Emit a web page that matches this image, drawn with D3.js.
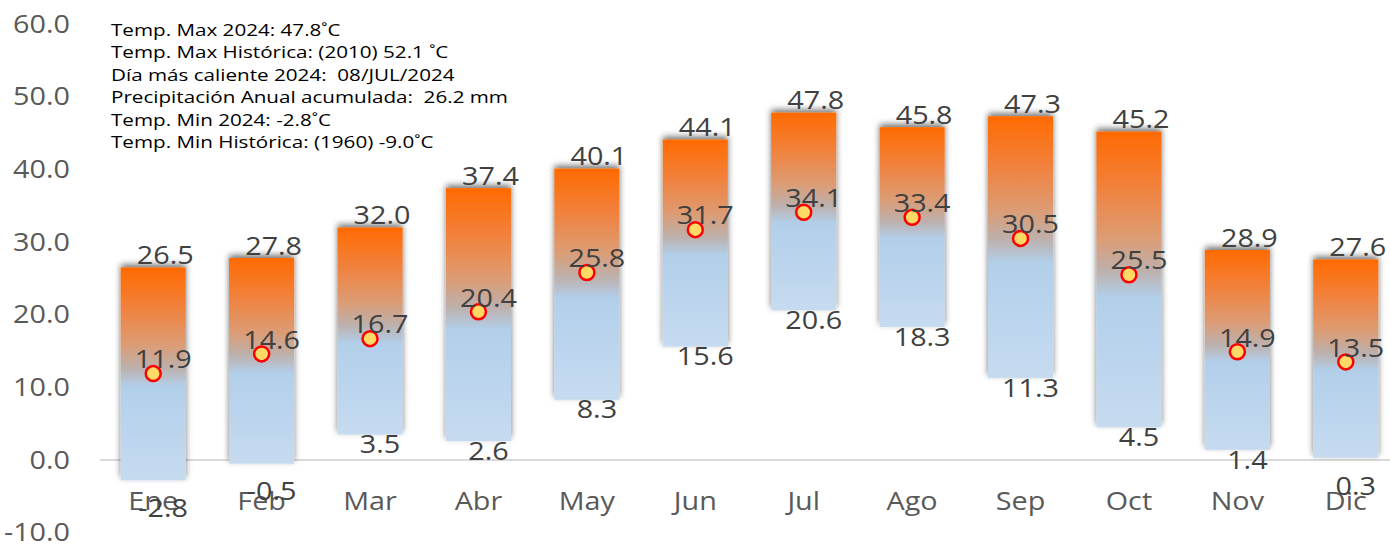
<!DOCTYPE html>
<html>
<head>
<meta charset="utf-8">
<script src="https://cdn.jsdelivr.net/npm/d3@7"></script>
<style>
  body { margin: 0; background: #fff; }
  svg { display: block; }
</style>
</head>
<body>
<script>
// datos mensuales 2024
var months = ["Ene", "Feb", "Mar", "Abr", "May", "Jun", "Jul", "Ago", "Sep", "Oct", "Nov", "Dic"];
var tMax = [26.5, 27.8, 32.0, 37.4, 40.1, 44.1, 47.8, 45.8, 47.3, 45.2, 28.9, 27.6];
var tMin = [-2.8, -0.5, 3.5, 2.6, 8.3, 15.6, 20.6, 18.3, 11.3, 4.5, 1.4, 0.3];
var tAvg = [11.9, 14.6, 16.7, 20.4, 25.8, 31.7, 34.1, 33.4, 30.5, 25.5, 14.9, 13.5];
var yTicks = [-10, 0, 10, 20, 30, 40, 50, 60];
var notes = [
	"Temp. Max 2024: 47.8˚C",
	"Temp. Max Histórica: (2010) 52.1 ˚C",
	"Día más caliente 2024:  08/JUL/2024",
	"Precipitación Anual acumulada:  26.2 mm",
	"Temp. Min 2024: -2.8˚C",
	"Temp. Min Histórica: (1960) -9.0˚C"
];

var width = 1390,
	height = 548;
var sx = 1.15; // the original chart is stretched sideways

var svg = d3.select("body").append("svg")
	.attr("width", width)
	.attr("height", height)
	.style("font-family", "'Open Sans', sans-serif");

var defs = svg.append("defs");
var grad = defs.append("linearGradient")
	.attr("id", "barGrad")
	.attr("x1", 0).attr("y1", 0).attr("x2", 0).attr("y2", 1);
[[0, "#ff6a00"], [0.18, "#f2803a"], [0.36, "#dc9c74"], [0.47, "#bdb0ac"], [0.56, "#b2cfea"], [1, "#c6dbf0"]]
	.forEach(function(s) {
		grad.append("stop").attr("offset", s[0]).attr("stop-color", s[1]);
	});

var shadow = defs.append("filter")
	.attr("id", "shadow")
	.attr("x", "-30%").attr("y", "-10%").attr("width", "160%").attr("height", "120%");
shadow.append("feDropShadow")
	.attr("dx", 0).attr("dy", -3)
	.attr("stdDeviation", 3)
	.attr("flood-color", "#000")
	.attr("flood-opacity", 0.55);

var x = d3.scaleBand()
	.domain(months)
	.range([99, 1400])
	.paddingInner(0.4)
	.paddingOuter(0.2);

var y = d3.scaleLinear()
	.domain([-10, 60])
	.range([532.7, 24]);

// stretched text helper
function label(g, tx, ty, str, size, color, anchor) {
	return g.append("text")
		.attr("transform", "translate(" + tx + "," + ty + ") scale(" + sx + ",1)")
		.attr("text-anchor", anchor || "middle")
		.attr("dy", "0.35em")
		.style("font-size", size + "px")
		.style("fill", color)
		.text(str);
}

// y axis labels
var yAxis = svg.append("g");
yTicks.forEach(function(t) {
	label(yAxis, 70, y(t), t.toFixed(1), 25, "#595959", "end");
});

// zero line
svg.append("line")
	.attr("x1", 100).attr("x2", width)
	.attr("y1", y(0)).attr("y2", y(0))
	.attr("stroke", "#d9d9d9")
	.attr("stroke-width", 2);

var cx = function(i) { return x(months[i]) + x.bandwidth() / 2; };

// floating bars min -> max
svg.append("g").selectAll("rect")
	.data(months)
	.enter()
	.append("rect")
	.attr("x", function(d) { return x(d); })
	.attr("width", x.bandwidth())
	.attr("y", function(d, i) { return y(tMax[i]); })
	.attr("height", function(d, i) { return y(tMin[i]) - y(tMax[i]); })
	.attr("fill", "url(#barGrad)")
	.attr("filter", "url(#shadow)");

// month labels
var xAxis = svg.append("g");
months.forEach(function(m, i) {
	label(xAxis, cx(i), 501, m, 25, "#595959");
});

// average markers
svg.append("g").selectAll("circle")
	.data(tAvg)
	.enter()
	.append("circle")
	.attr("cx", function(d, i) { return cx(i); })
	.attr("cy", function(d) { return y(d); })
	.attr("r", 7.5)
	.attr("fill", "#ffd966")
	.attr("stroke", "#ff0000")
	.attr("stroke-width", 2.5);

var labels = svg.append("g");
tMax.forEach(function(v, i) {
	label(labels, cx(i) + 12, y(v) - 12, v.toFixed(1), 25, "#404040");
});
tAvg.forEach(function(v, i) {
	label(labels, cx(i) + 10, y(v) - 14, v.toFixed(1), 25, "#404040");
});
tMin.forEach(function(v, i) {
	var off = v < 1 ? 28 : 10;
	label(labels, cx(i) + 10, y(v) + off, v.toFixed(1), 25, "#404040");
});

// notes box top left
var noteG = svg.append("g");
notes.forEach(function(n, i) {
	noteG.append("text")
		.attr("transform", "translate(111," + (36 + i * 22.4) + ") scale(1.29,1)")
		.attr("xml:space", "preserve")
		.style("white-space", "pre")
		.style("font-size", "16px")
		.style("fill", "#000")
		.text(n);
});
</script>
</body>
</html>
